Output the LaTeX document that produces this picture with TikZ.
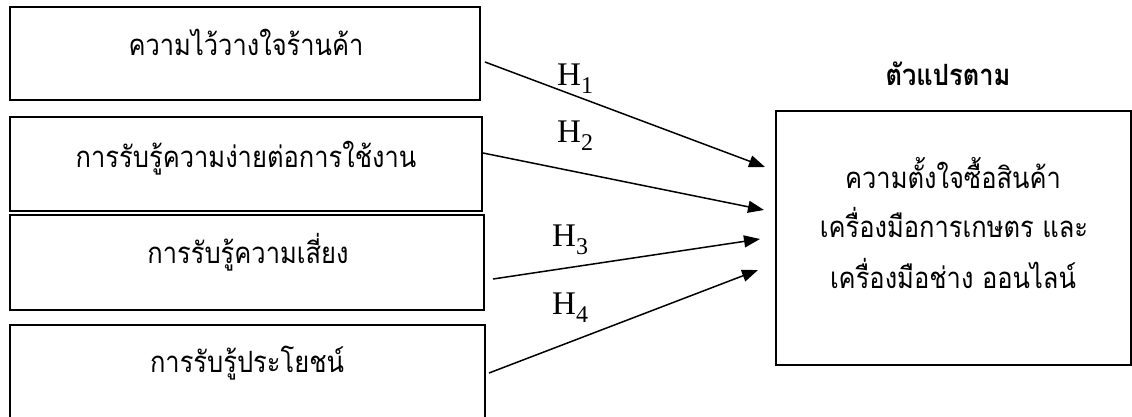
\documentclass[tikz,border=0pt]{standalone}
\usepackage{fontspec}
\usepackage{graphicx}
\newfontfamily\thai[Script=Thai]{Loma}
\newfontfamily\hfont{Liberation Serif}
\usetikzlibrary{arrows.meta}

% Thai labels are set slightly taller than the font's natural shape
\newcommand{\tall}[1]{\scalebox{1}[1.15]{#1}}
% hypothesis label: H with a lowered index
\newcommand{\hyplabel}[1]{H\raisebox{-8pt}{\fontsize{24}{24}\selectfont #1}}

\begin{document}
\begin{tikzpicture}[x=1pt,y=-1pt,
  box/.style={draw,line width=1.5pt,inner sep=0pt},
  txt/.style={anchor=base,inner sep=0pt,font=\thai\fontsize{25.5}{30}\selectfont},
  head/.style={anchor=base,inner sep=0pt,font=\thai\bfseries\fontsize{25.5}{30}\selectfont},
  hyp/.style={anchor=base west,inner sep=0pt,font=\hfont\fontsize{33}{38}\selectfont},
  link/.style={line width=1.5pt,-{Triangle[length=16pt,width=12pt]}}]
\useasboundingbox (0,0) rectangle (1132,416);
\clip (0,0) rectangle (1132,416);

% independent variables
\node[box,minimum width=470pt,minimum height=93pt]  (b1) at (245,53.5) {};
\node[box,minimum width=472pt,minimum height=94pt]  (b2) at (246,164) {};
\node[box,minimum width=474pt,minimum height=95pt]  (b3) at (247,262.5) {};
\node[box,minimum width=475pt,minimum height=105pt] (b4) at (247.5,377.5) {};

\node[txt] (t1) at (246,55)  {\tall{ความไว้วางใจร้านค้า}};
\node[txt] (t2) at (246,167) {\tall{การรับรู้ความง่ายต่อการใช้งาน}};
\node[txt] (t3) at (248,263) {\tall{การรับรู้ความเสี่ยง}};
\node[txt] (t4) at (247,372) {\tall{การรับรู้ประโยชน์}};

% dependent variable
\node[head] (title) at (948,85) {\tall{ตัวแปรตาม}};
\node[box,minimum width=355pt,minimum height=254pt] (dv) at (953.5,238) {};
\node[txt] (d1) at (953,188) {\tall{ความตั้งใจซื้อสินค้า}};
\node[txt] (d2) at (954,237) {\tall{เครื่องมือการเกษตร และ}};
\node[txt] (d3) at (953,288) {\tall{เครื่องมือช่าง ออนไลน์}};

% hypotheses
\coordinate (s1) at (485,62);  \coordinate (e1) at (765,167);
\coordinate (s2) at (483,153); \coordinate (e2) at (764,210);
\coordinate (s3) at (493,279); \coordinate (e3) at (760,239);
\coordinate (s4) at (489,373); \coordinate (e4) at (758,270);
\draw[link] (s1) -- (e1);
\draw[link] (s2) -- (e2);
\draw[link] (s3) -- (e3);
\draw[link] (s4) -- (e4);

\node[hyp] (h1) at (557,85)  {\hyplabel{1}};
\node[hyp] (h2) at (557,142) {\hyplabel{2}};
\node[hyp] (h3) at (552,246) {\hyplabel{3}};
\node[hyp] (h4) at (552,314) {\hyplabel{4}};
\end{tikzpicture}
\end{document}
